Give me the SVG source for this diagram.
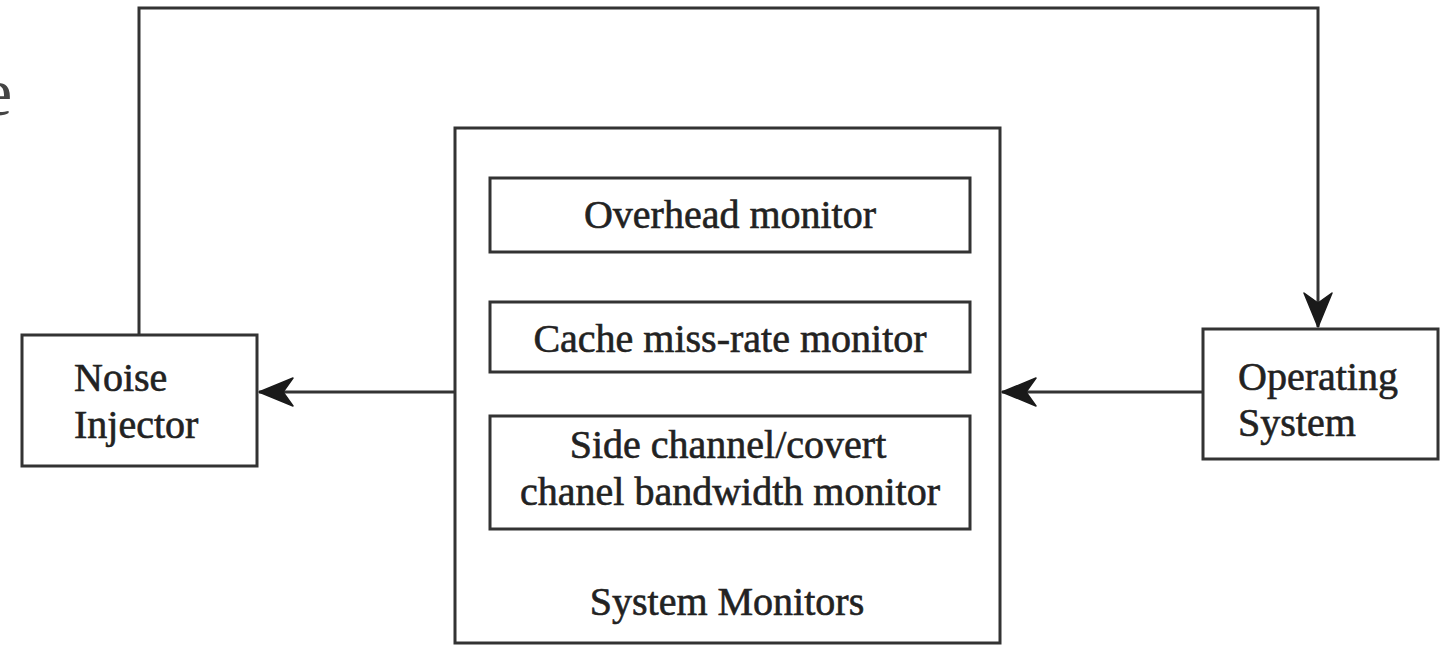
<svg xmlns="http://www.w3.org/2000/svg" width="1453" height="646" viewBox="0 0 1453 646">
<style>
.box{fill:#fff;stroke:#333;stroke-width:3}
.conn{fill:none;stroke:#333;stroke-width:3}
.t{font-family:"Liberation Serif","Times New Roman",serif;font-size:40px;fill:#222;stroke:#222;stroke-width:0.6}
.c{text-anchor:middle}
</style>
<defs>
<marker id="arr" viewBox="-37 -16 39 32" refX="0" refY="0" markerWidth="39" markerHeight="32" markerUnits="userSpaceOnUse" orient="auto">
<path d="M0,0 L-34,-14 L-24,0 L-34,14 Z" fill="#1a1a1a" stroke="#1a1a1a" stroke-width="1.5" stroke-linejoin="round"/>
</marker>
</defs>
<rect width="1453" height="646" fill="#fff"/>
<text x="-18" y="115" style="font-family:'Liberation Serif',serif;font-size:68px;fill:#444">e</text>
<g id="connectors">
<path class="conn" d="M139,335 V8 H1318 V327" marker-end="url(#arr)"/>
<path class="conn" d="M455,392 H259" marker-end="url(#arr)"/>
<path class="conn" d="M1202,392 H1002" marker-end="url(#arr)"/>
</g>
<g id="system-monitors">
<rect class="box" x="455" y="128" width="545" height="515"/>
<text class="t c" x="727" y="615">System Monitors</text>
</g>
<g id="overhead-monitor">
<rect class="box" x="490" y="178" width="480" height="74"/>
<text class="t c" x="730" y="228">Overhead monitor</text>
</g>
<g id="cache-monitor">
<rect class="box" x="490" y="302" width="480" height="70"/>
<text class="t c" x="730" y="352">Cache miss-rate monitor</text>
</g>
<g id="side-channel-monitor">
<rect class="box" x="490" y="416" width="480" height="113"/>
<text class="t c" x="728" y="458">Side channel/covert</text>
<text class="t c" x="730" y="505">chanel bandwidth monitor</text>
</g>
<g id="noise-injector">
<rect class="box" x="22" y="335" width="235" height="131"/>
<text class="t" x="74" y="391">Noise</text>
<text class="t" x="74" y="438">Injector</text>
</g>
<g id="operating-system">
<rect class="box" x="1203" y="329" width="235" height="130"/>
<text class="t" x="1238" y="390">Operating</text>
<text class="t" x="1238" y="436">System</text>
</g>
</svg>
